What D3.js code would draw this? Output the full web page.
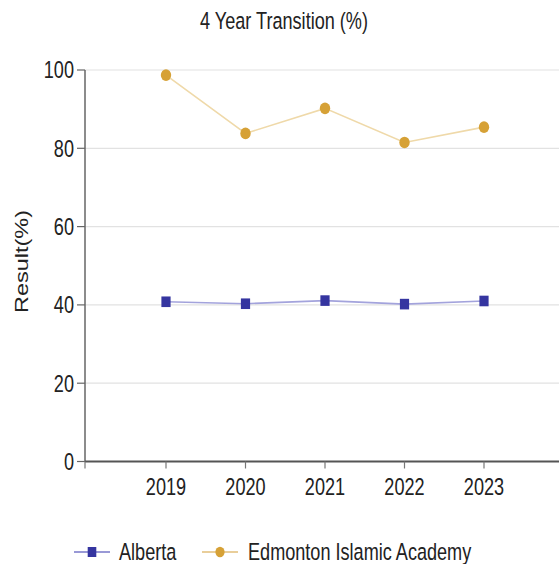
<!DOCTYPE html>
<html>
<head>
<meta charset="utf-8">
<script src="https://cdn.jsdelivr.net/npm/d3@7"></script>
<style>
  html, body { margin: 0; padding: 0; background: #fff; }
  svg { display: block; }
  text { font-family: "Liberation Sans", Arial, sans-serif; fill: #222; }
</style>
</head>
<body>
<script>
const title = "4 Year Transition (%)";
const yLabel = "Result(%)";
const years = ["2019", "2020", "2021", "2022", "2023"];
const seriesNames = ["Alberta", "Edmonton Islamic Academy"];
const alberta = [40.8, 40.3, 41.1, 40.2, 41.0];
const edmonton = [98.7, 83.8, 90.2, 81.5, 85.4];
const yTicks = [0, 20, 40, 60, 80, 100];

const W = 559, H = 564;
const SX = 0.77;      // horizontal glyph compression seen in reference
const FS = 23.5;      // font size

const svg = d3.select("body").append("svg").attr("width", W).attr("height", H);

const axisX0 = 85, axisX1 = 559;
const y = d3.scaleLinear().domain([0, 100]).range([461.5, 70]);
const x = d3.scalePoint().domain(years).range([166, 484]);

function txt(g, str, tx, ty, anchor, extra) {
  return g.append("text")
    .attr("transform", `translate(${tx},${ty}) scale(${SX},1)` + (extra || ""))
    .attr("text-anchor", anchor)
    .style("font-size", FS + "px")
    .text(str);
}

// gridlines
svg.append("g").selectAll("line").data(yTicks.filter(d => d > 0)).join("line")
  .attr("x1", axisX0).attr("x2", axisX1)
  .attr("y1", d => y(d)).attr("y2", d => y(d))
  .attr("stroke", "#e2e2e2").attr("stroke-width", 1.2);

// y axis
const ya = svg.append("g");
ya.append("line").attr("x1", axisX0).attr("x2", axisX0)
  .attr("y1", y(100)).attr("y2", y(0)).attr("stroke", "#666").attr("stroke-width", 1.5);
ya.selectAll("line.t").data(yTicks).join("line").attr("class", "t")
  .attr("x1", axisX0 - 8).attr("x2", axisX0)
  .attr("y1", d => y(d)).attr("y2", d => y(d))
  .attr("stroke", "#666").attr("stroke-width", 1.2);
yTicks.forEach(d => txt(ya, String(d), 74, y(d) + 8.3, "end"));

// x axis
const xa = svg.append("g");
xa.append("line").attr("x1", axisX0).attr("x2", axisX1)
  .attr("y1", y(0)).attr("y2", y(0)).attr("stroke", "#555").attr("stroke-width", 2);
xa.selectAll("line.t").data([null].concat(years)).join("line").attr("class", "t")
  .attr("x1", d => d === null ? axisX0 : x(d)).attr("x2", d => d === null ? axisX0 : x(d))
  .attr("y1", y(0)).attr("y2", y(0) + 7)
  .attr("stroke", "#777").attr("stroke-width", 1.2);
years.forEach(d => txt(xa, d, x(d), 495, "middle"));

// title
txt(svg, title, 284, 29, "middle");
// y label
svg.append("text")
  .attr("transform", `translate(28,261.5) scale(${SX},1) rotate(-90)`)
  .attr("text-anchor", "middle")
  .style("font-size", FS + "px")
  .text(yLabel);

const line = d3.line().x((d, i) => x(years[i])).y(d => y(d));

// Alberta
svg.append("path").datum(alberta).attr("d", line)
  .attr("fill", "none").attr("stroke", "#a3a3dc").attr("stroke-width", 1.6);
svg.append("g").selectAll("rect").data(alberta).join("rect")
  .attr("x", (d, i) => x(years[i]) - 4.6).attr("y", d => y(d) - 5.3)
  .attr("width", 9.2).attr("height", 10.6).attr("fill", "#3535a0");

// Edmonton
svg.append("path").datum(edmonton).attr("d", line)
  .attr("fill", "none").attr("stroke", "#efd9a9").attr("stroke-width", 1.6);
svg.append("g").selectAll("ellipse").data(edmonton).join("ellipse")
  .attr("cx", (d, i) => x(years[i])).attr("cy", d => y(d))
  .attr("rx", 5.2).attr("ry", 5.8).attr("fill", "#d6a136");

// legend
const lg = svg.append("g");
const ly = 552;
lg.append("line").attr("x1", 74).attr("x2", 110).attr("y1", ly).attr("y2", ly)
  .attr("stroke", "#7777c8").attr("stroke-width", 1.6);
lg.append("rect").attr("x", 92 - 4.3).attr("y", ly - 5).attr("width", 8.6).attr("height", 10).attr("fill", "#3535a0");
txt(lg, seriesNames[0], 119, ly + 8, "start");
lg.append("line").attr("x1", 202).attr("x2", 238).attr("y1", ly).attr("y2", ly)
  .attr("stroke", "#e2be78").attr("stroke-width", 1.6);
lg.append("ellipse").attr("cx", 220).attr("cy", ly).attr("rx", 4.6).attr("ry", 5.2).attr("fill", "#d6a136");
txt(lg, seriesNames[1], 248, ly + 8, "start");
</script>
</body>
</html>
